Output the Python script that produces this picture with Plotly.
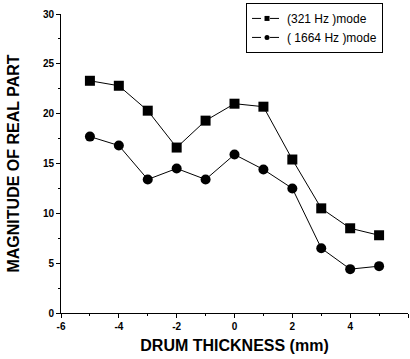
import plotly.graph_objects as go

thickness = [-5, -4, -3, -2, -1, 0, 1, 2, 3, 4, 5]
mode_321 = [23.3, 22.8, 20.3, 16.6, 19.3, 21.0, 20.7, 15.4, 10.5, 8.5, 7.8]
mode_1664 = [17.7, 16.8, 13.4, 14.5, 13.4, 15.9, 14.4, 12.5, 6.5, 4.4, 4.7]
names = ["(321 Hz )mode", "( 1664 Hz )mode"]
x_ticks = [-6, -4, -2, 0, 2, 4, 6]
x_ticktext = ["-6", "-4", "-2", "0", "2", "4", "6"]
y_ticks = [0, 5, 10, 15, 20, 25, 30]

fig = go.Figure()
# data traces
fig.add_trace(go.Scatter(x=thickness, y=mode_321, mode="lines+markers", name=names[0],
                         showlegend=False,
                         line=dict(color="black", width=1),
                         marker=dict(symbol="square", size=10, color="black")))
fig.add_trace(go.Scatter(x=thickness, y=mode_1664, mode="lines+markers", name=names[1],
                         showlegend=False,
                         line=dict(color="black", width=1),
                         marker=dict(symbol="circle", size=10, color="black")))
# legend entries with small symbols, as in the reference
fig.add_trace(go.Scatter(x=[None], y=[None], mode="lines+markers", name=names[0],
                         line=dict(color="black", width=1, dash="dash"),
                         marker=dict(symbol="square", size=5, color="black")))
fig.add_trace(go.Scatter(x=[None], y=[None], mode="lines+markers", name=names[1],
                         line=dict(color="black", width=1, dash="dash"),
                         marker=dict(symbol="circle", size=5, color="black")))

fig.update_layout(
    width=410, height=359,
    margin=dict(l=61, r=2, t=14, b=46),
    paper_bgcolor="white", plot_bgcolor="white",
    font=dict(family="Liberation Sans, Arial", color="black"),
    showlegend=True,
    legend=dict(x=0.928, y=1.037, xanchor="right", yanchor="top",
                bordercolor="black", borderwidth=1, bgcolor="white",
                font=dict(size=12), tracegroupgap=0, itemwidth=30,
                traceorder="normal"),
    xaxis=dict(range=[-6, 6], tickvals=x_ticks, ticktext=x_ticktext,
               showgrid=False, zeroline=False,
               showline=True, linecolor="black", linewidth=1,
               ticks="outside", ticklen=4, tickcolor="black",
               minor=dict(dtick=1, ticks="outside", ticklen=2, tickcolor="black"),
               tickfont=dict(size=10, weight="bold"),
               title=dict(text="<b>DRUM THICKNESS (mm)</b>", font=dict(size=16), standoff=8)),
    yaxis=dict(range=[0, 30], tickvals=y_ticks, showgrid=False, zeroline=False,
               showline=True, linecolor="black", linewidth=1,
               ticks="outside", ticklen=4, tickcolor="black",
               minor=dict(dtick=2.5, ticks="outside", ticklen=2, tickcolor="black"),
               tickfont=dict(size=10, weight="bold"),
               title=dict(text="<b>MAGNITUDE OF REAL PART</b>", font=dict(size=16), standoff=19)),
)

fig.write_html("out.html")
